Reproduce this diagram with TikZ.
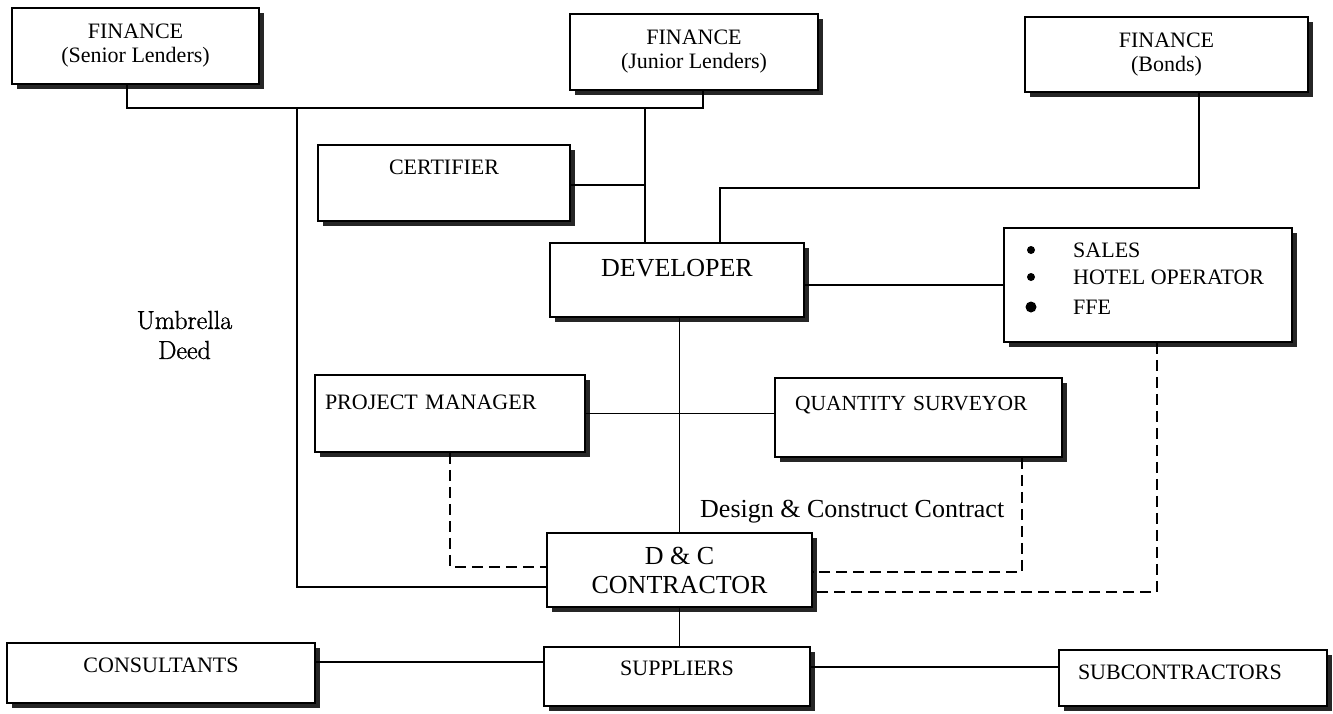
\documentclass[tikz,border=0pt]{standalone}
\usepackage{fontspec}
\setmainfont{Liberation Serif}
\newfontfamily\lmr[FakeBold=1.2]{Latin Modern Roman}
\usetikzlibrary{shadows}
\begin{document}
\begin{tikzpicture}[x=1pt,y=-1pt,
  box/.style={draw, line width=1.8pt, fill=white, inner sep=0pt,
    drop shadow={shadow xshift=5pt, shadow yshift=-5pt, fill=black!85, opacity=1}},
  smalltxt/.style={font=\fontsize{22}{24}\selectfont},
  bigtxt/.style={font=\fontsize{26}{29}\selectfont},
  conn/.style={line width=1.6pt},
  dashconn/.style={line width=1.8pt, dash pattern=on 11pt off 6pt}]
\useasboundingbox (0,0) rectangle (1333,713);

% connector coordinates
\coordinate (busL) at (127,108);
\coordinate (busR) at (703,108);
\coordinate (umb) at (297,108);
\coordinate (umbB) at (297,587);
\coordinate (devbus) at (645,108);
\coordinate (certJ) at (645,185);
\coordinate (bondsX) at (1199,188);
\coordinate (devX) at (720,188);
\coordinate (pmd) at (450,567);
\coordinate (qsd) at (1022,572);
\coordinate (sd) at (1157,592);

% boxes
\node[box, smalltxt, align=center, minimum width=247pt, minimum height=76pt]
  (senior) at (135.5,46) {FINANCE\\(Senior Lenders)};
\node[box, smalltxt, align=center, minimum width=248pt, minimum height=76pt]
  (junior) at (694,52) {FINANCE\\(Junior Lenders)};
\node[box, smalltxt, align=center, minimum width=283pt, minimum height=75pt]
  (bonds) at (1166.5,54.5) {FINANCE\\(Bonds)};
\node[box, smalltxt, minimum width=252pt, text height=29pt, text depth=47pt]
  (cert) at (444,183) {CERTIFIER};
\node[box, bigtxt, minimum width=254pt, text height=33.5pt, text depth=40.5pt]
  (dev) at (677,280) {DEVELOPER};
\node[box, minimum width=288pt, minimum height=114pt] (sales) at (1148,285) {};
\node[anchor=base west, inner sep=0pt] (salesT) at (1073,257)
  {\fontsize{22}{27}\selectfont\begin{tabular}[t]{@{}l@{}}
  SALES\\ HOTEL OPERATOR\\[3pt] FFE
  \end{tabular}};
\fill (1031,250) circle (4);
\fill (1031,277) circle (4);
\fill (1031,307) circle (5.5);
\node[box, smalltxt, align=left, text width=250pt, inner xsep=10pt,
  text height=34pt, text depth=43pt] (pm) at (450,413.5) {PROJECT MANAGER};
\node[box, font=\fontsize{21.5}{24}\selectfont, align=left, text width=247pt, inner xsep=20pt,
  text height=32pt, text depth=47pt] (qs) at (918.5,417.5) {QUANTITY SURVEYOR};
\node[box, bigtxt, align=center, minimum width=265pt, minimum height=74pt]
  (dc) at (679.5,570) {D \& C\\CONTRACTOR};
\node[box, smalltxt, minimum width=308pt, text height=29pt, text depth=31pt]
  (cons) at (161,673) {CONSULTANTS};
\node[box, smalltxt, minimum width=266pt, text height=28pt, text depth=31pt]
  (sup) at (677,676.5) {SUPPLIERS};
\node[box, smalltxt, align=left, text width=230pt, inner xsep=19pt,
  text height=29pt, text depth=27pt] (sub) at (1193,678) {SUBCONTRACTORS};

% labels
\node[font=\lmr\fontsize{26}{30}\selectfont, align=center] (umbrella) at (184.5,335)
  {Umbrella\\Deed};
\node[bigtxt, anchor=base west, inner sep=0pt] (dclabel) at (700,517)
  {Design \& Construct Contract};

% connectors between named nodes
\draw[conn] (senior.south -| busL) -- (busL) -- (busR) -- (junior.south -| busR);
\draw[conn] (umb) -- (umbB) -- (dc.west |- umbB);
\draw[conn] (devbus) -- (dev.north -| devbus);
\draw[conn] (cert.east |- certJ) -- (certJ);
\draw[conn] (bonds.south -| bondsX) -- (bondsX) -- (devX) -- (dev.north -| devX);
\draw[conn] (dev.east |- sales.west) -- (sales.west);
\draw[conn] (dev.south -| dc.north) -- (dc.north);
\draw[conn] (pm.east) -- (pm.east -| qs.west);
\draw[conn] (dc.south) -- (dc.south |- sup.north);
\draw[conn] ([yshift=11pt]cons.east) -- ([yshift=11pt]cons.east -| sup.west);
\draw[conn] ([yshift=9.5pt]sup.east) -- ([yshift=9.5pt]sup.east -| sub.west);
\draw[dashconn] (pm.south -| pmd) -- (pmd) -- (dc.west |- pmd);
\draw[dashconn] (qs.south -| qsd) -- (qsd) -- (dc.east |- qsd);
\draw[dashconn] (sales.south -| sd) -- (sd) -- (dc.east |- sd);
\end{tikzpicture}
\end{document}
